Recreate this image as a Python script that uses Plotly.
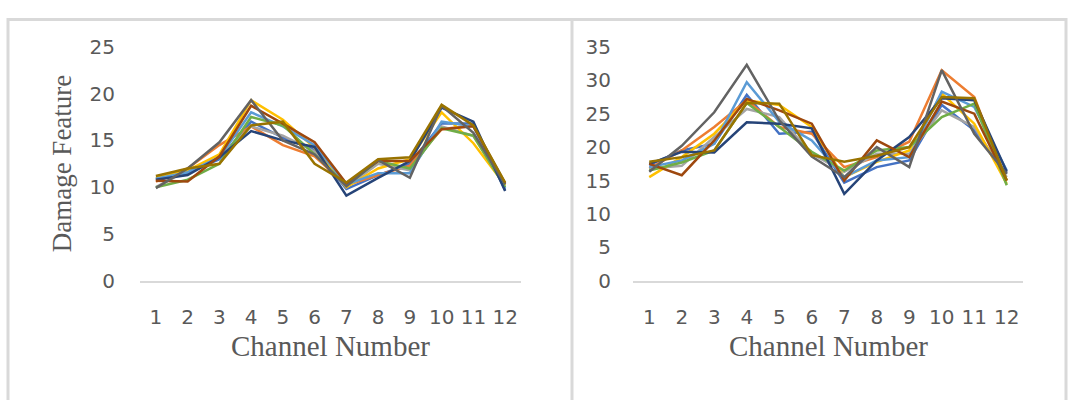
import plotly.graph_objects as go

W, H = 1068, 400

channels = list(range(1, 13))

colors = ["#4472C4", "#ED7D31", "#A5A5A5", "#FFC000", "#5B9BD5",
          "#70AD47", "#264478", "#9E480E", "#636363", "#997300"]

# Damage feature per channel, left chart (10 series)
left_s1 = [10.8, 11.5, 13.0, 17.0, 15.3, 14.0, 9.8, 11.3, 12.5, 16.8, 16.8, 9.7]
left_s2 = [10.6, 12.0, 14.5, 16.5, 14.5, 13.3, 10.2, 11.3, 12.3, 16.2, 16.6, 10.3]
left_s3 = [10.0, 11.8, 13.2, 16.5, 15.5, 13.8, 10.0, 12.5, 11.8, 16.5, 15.5, 10.2]
left_s4 = [11.0, 11.8, 13.5, 19.3, 17.2, 14.2, 10.0, 12.0, 13.0, 18.0, 14.7, 10.2]
left_s5 = [10.9, 11.6, 13.2, 18.0, 16.5, 14.5, 10.3, 11.5, 11.5, 17.0, 16.5, 9.9]
left_s6 = [10.0, 10.8, 12.5, 17.5, 16.6, 13.5, 10.2, 12.8, 12.0, 16.3, 15.5, 10.0]
left_s7 = [10.8, 11.3, 13.2, 16.0, 15.0, 14.3, 9.1, 11.0, 12.8, 18.5, 17.0, 9.6]
left_s8 = [10.7, 10.6, 13.3, 18.7, 16.8, 14.8, 10.4, 12.8, 12.8, 16.2, 16.5, 10.4]
left_s9 = [9.9, 12.0, 14.8, 19.3, 15.0, 13.5, 10.1, 12.9, 11.0, 18.7, 15.8, 10.3]
left_s10 = [11.2, 12.0, 12.5, 16.6, 17.0, 12.5, 10.5, 13.0, 13.2, 18.8, 16.6, 10.5]

# Damage feature per channel, right chart (10 series)
right_s1 = [17.3, 19.5, 20.5, 27.8, 22.0, 22.3, 14.7, 17.0, 18.0, 26.3, 22.5, 16.0]
right_s2 = [16.8, 19.5, 23.0, 27.0, 23.0, 22.0, 17.0, 18.5, 20.8, 31.5, 27.5, 15.0]
right_s3 = [16.8, 17.2, 21.5, 25.7, 24.5, 19.0, 16.3, 19.0, 19.0, 25.5, 23.0, 15.5]
right_s4 = [15.5, 18.5, 22.0, 27.0, 26.3, 23.0, 15.5, 17.8, 19.5, 28.0, 23.5, 14.5]
right_s5 = [17.0, 18.0, 20.5, 29.7, 23.8, 21.0, 15.5, 18.0, 18.5, 28.3, 26.0, 16.5]
right_s6 = [16.5, 17.7, 19.5, 26.6, 23.0, 19.3, 16.5, 19.5, 20.0, 24.5, 26.5, 14.3]
right_s7 = [17.5, 19.3, 19.2, 23.7, 23.5, 22.8, 13.0, 18.0, 21.5, 27.3, 27.0, 16.3]
right_s8 = [17.5, 15.8, 21.0, 27.2, 25.5, 23.5, 15.0, 21.0, 18.5, 26.8, 25.0, 15.0]
right_s9 = [16.3, 20.2, 25.2, 32.3, 24.0, 18.6, 15.5, 20.0, 17.0, 31.5, 22.0, 16.0]
right_s10 = [17.8, 18.5, 19.5, 26.6, 26.5, 18.8, 17.8, 18.7, 20.0, 27.5, 27.3, 15.0]

left_series = [left_s1, left_s2, left_s3, left_s4, left_s5,
               left_s6, left_s7, left_s8, left_s9, left_s10]
right_series = [right_s1, right_s2, right_s3, right_s4, right_s5,
                right_s6, right_s7, right_s8, right_s9, right_s10]

left_yticks = [0, 5, 10, 15, 20, 25]
right_yticks = [0, 5, 10, 15, 20, 25, 30, 35]

fig = go.Figure()
for vals, c in zip(left_series, colors):
    fig.add_trace(go.Scatter(x=channels, y=vals, mode="lines",
                             line=dict(color=c, width=2.5),
                             xaxis="x", yaxis="y", showlegend=False))
for vals, c in zip(right_series, colors):
    fig.add_trace(go.Scatter(x=channels, y=vals, mode="lines",
                             line=dict(color=c, width=2.5),
                             xaxis="x2", yaxis="y2", showlegend=False))

tick_font = dict(family="DejaVu Sans", size=20, color="#595959")
xtitle_font = dict(family="Liberation Serif", size=29, color="#595959")
ytitle_font = dict(family="Liberation Serif", size=27, color="#595959")

y_dom = [(H - 286) / H, (H - 37) / H]

xcommon = dict(range=[0.5, 12.5], tickvals=channels, ticktext=[str(c) for c in channels],
               showgrid=False, zeroline=False, showline=True, linecolor="#D9D9D9",
               linewidth=2, ticks="", tickfont=tick_font, ticklabelstandoff=17,
               fixedrange=True)
ycommon = dict(showgrid=False, zeroline=False, showline=False, ticks="",
               tickfont=tick_font, domain=y_dom, fixedrange=True)

fig.update_layout(
    width=W, height=H,
    margin=dict(l=0, r=0, t=0, b=0),
    paper_bgcolor="white", plot_bgcolor="white",
    xaxis=dict(domain=[140 / W, 521 / W], anchor="y", **xcommon),
    yaxis=dict(range=[0, 25], tickvals=left_yticks, anchor="x",
               ticklabelstandoff=24, **ycommon),
    xaxis2=dict(domain=[633 / W, 1023 / W], anchor="y2", **xcommon),
    yaxis2=dict(range=[0, 35], tickvals=right_yticks, anchor="x2",
                ticklabelstandoff=21, **ycommon),
    shapes=[
        dict(type="rect", xref="paper", yref="paper",
             x0=8 / W, x1=1066 / W, y0=-0.1, y1=(H - 8) / H,
             line=dict(color="#D9D9D9", width=3)),
        dict(type="line", xref="paper", yref="paper",
             x0=572 / W, x1=572 / W, y0=-0.1, y1=(H - 8) / H,
             line=dict(color="#D9D9D9", width=3)),
    ],
    annotations=[
        dict(text="Channel Number", xref="paper", yref="paper",
             x=330 / W, y=(H - 355) / H, showarrow=False, font=xtitle_font,
             xanchor="center", yanchor="middle"),
        dict(text="Channel Number", xref="paper", yref="paper",
             x=828 / W, y=(H - 355) / H, showarrow=False, font=xtitle_font,
             xanchor="center", yanchor="middle"),
        dict(text="Damage Feature", xref="paper", yref="paper",
             x=62 / W, y=(H - 161) / H, showarrow=False, font=ytitle_font,
             textangle=-90, xanchor="center", yanchor="middle"),
    ],
)

# place the figure flush with the page edges
fig.write_html("out.html",
               post_script="document.body.style.margin='0px';"
                           "document.body.style.overflow='hidden';")
